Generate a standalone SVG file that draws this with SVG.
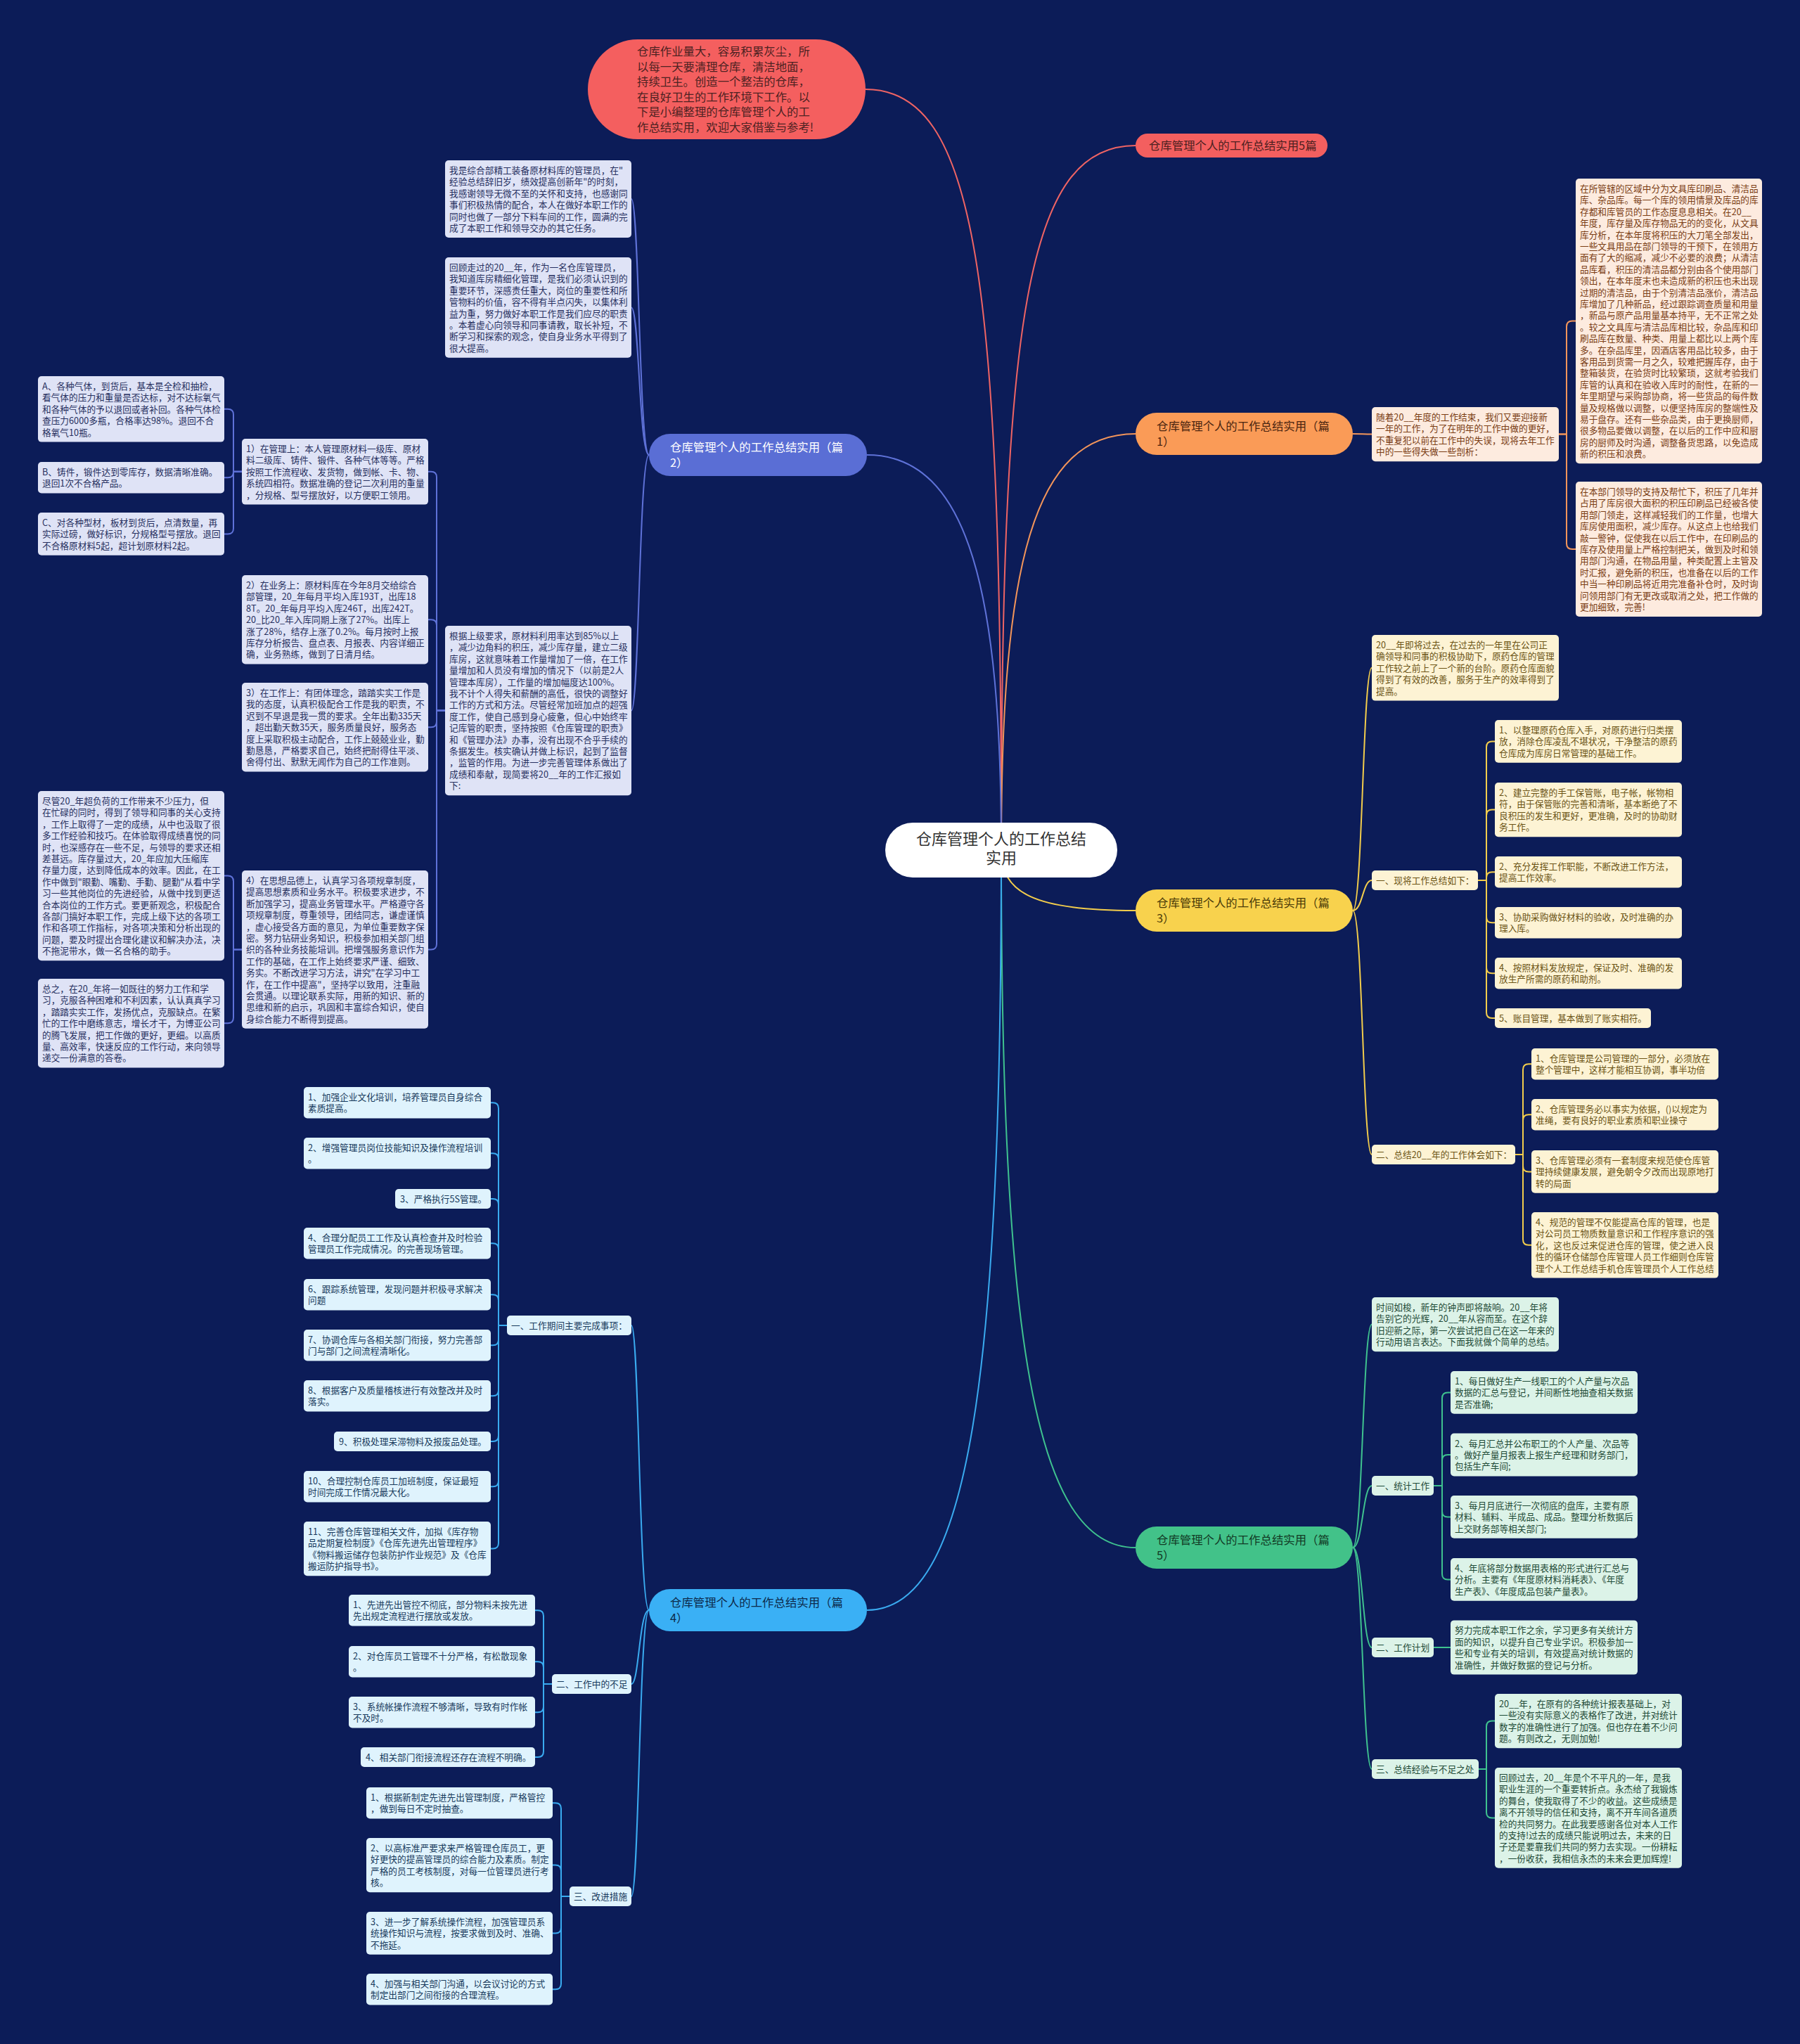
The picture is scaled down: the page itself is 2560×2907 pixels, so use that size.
<svg xmlns="http://www.w3.org/2000/svg" width="2560" height="2907" viewBox="0 0 2560 2907">
<style>
.t{font-family:"Noto Sans CJK SC","Noto Sans",sans-serif;font-size:12.7px}
.bt{font-family:"Noto Sans CJK SC","Noto Sans",sans-serif;font-size:16.4px}
.ln{fill:none;stroke-width:2}
.bx-o{fill:#fdebdf}.tx-o{fill:#7a3d14}
.bx-y{fill:#fdf3d4}.tx-y{fill:#6b5314}
.bx-g{fill:#dcf3e8}.tx-g{fill:#1e4a36}
.bx-b{fill:#dfe3f6}.tx-b{fill:#27305f}
.bx-s{fill:#dff3fd}.tx-s{fill:#173a5c}
</style>
<rect x="0" y="0" width="2560" height="2907" fill="#0c1c58"/>
<g id="connectors">
<path class="ln" stroke="#ef6464" d="M1424 1209 C1424 400 1390 127 1231 127"/>
<path class="ln" stroke="#ef6464" d="M1424 1209 C1424 450 1460 207 1615 207"/>
<path class="ln" stroke="#f3955a" d="M1424 1209 C1424 800 1470 617 1615 617"/>
<path class="ln" stroke="#5f72d8" d="M1424 1209 C1424 850 1380 647 1233 647"/>
<path class="ln" stroke="#f3cd4c" d="M1424 1209 C1424 1270 1470 1295 1615 1295"/>
<path class="ln" stroke="#3fc28f" d="M1424 1209 C1424 1900 1470 2201 1615 2201"/>
<path class="ln" stroke="#3aabf0" d="M1424 1209 C1424 1950 1380 2290 1233 2290"/>
<g stroke="#f3955a" class="ln">
<path d="M1924 617 C1938 617 1938 617.6 1951 617.6"/>
<path d="M2217 617.6 L2228 617.6 L2228 464.6 Q2228 456.6 2236 456.6 L2241 456.6"/>
<path d="M2217 617.6 L2228 617.6 L2228 773 Q2228 781 2236 781 L2241 781"/>
</g>
<g stroke="#5f72d8" class="ln">
<path d="M923 647 C909 647 909 283 898 283"/>
<path d="M923 647 C909 647 909 437.4 898 437.4"/>
<path d="M923 647 C909 647 909 1010.6 898 1010.6"/>
<path d="M633 1010.6 L621 1010.6 L621 678.8 Q621 670.8 613 670.8 L609 670.8"/>
<path d="M633 1010.6 L621 1010.6 L621 889.2 Q621 881.2 613 881.2 L609 881.2"/>
<path d="M633 1010.6 L621 1010.6 L621 1026.2 Q621 1034.2 613 1034.2 L609 1034.2"/>
<path d="M633 1010.6 L621 1010.6 L621 1342.4 Q621 1350.4 613 1350.4 L609 1350.4"/>
<path d="M344 670.8 L332 670.8 L332 589.8 Q332 581.8 324 581.8 L319 581.8"/>
<path d="M344 670.8 L332 670.8 L332 671.2 Q332 679.2 324 679.2 L319 679.2"/>
<path d="M344 670.8 L332 670.8 L332 751.4 Q332 759.4 324 759.4 L319 759.4"/>
<path d="M344 1350.4 L332 1350.4 L332 1253.6 Q332 1245.6 324 1245.6 L319 1245.6"/>
<path d="M344 1350.4 L332 1350.4 L332 1447.2 Q332 1455.2 324 1455.2 L319 1455.2"/>
</g>
<g stroke="#3aabf0" class="ln">
<path d="M923 2290 C909 2290 909 1885 898 1885"/>
<path d="M923 2290 C909 2290 909 2395 898 2395"/>
<path d="M923 2290 C909 2290 909 2697 898 2697"/>
<path d="M721 1885 L709 1885 L709 1576.2 Q709 1568.2 701 1568.2 L698 1568.2"/>
<path d="M721 1885 L709 1885 L709 1648.2 Q709 1640.2 701 1640.2 L698 1640.2"/>
<path d="M721 1885 L709 1885 L709 1713 Q709 1705 701 1705 L698 1705"/>
<path d="M721 1885 L709 1885 L709 1776.2 Q709 1768.2 701 1768.2 L698 1768.2"/>
<path d="M721 1885 L709 1885 L709 1849.2 Q709 1841.2 701 1841.2 L698 1841.2"/>
<path d="M721 1885 L709 1885 L709 1905.2 Q709 1913.2 701 1913.2 L698 1913.2"/>
<path d="M721 1885 L709 1885 L709 1977.2 Q709 1985.2 701 1985.2 L698 1985.2"/>
<path d="M721 1885 L709 1885 L709 2042 Q709 2050 701 2050 L698 2050"/>
<path d="M721 1885 L709 1885 L709 2106.2 Q709 2114.2 701 2114.2 L698 2114.2"/>
<path d="M721 1885 L709 1885 L709 2194.6 Q709 2202.6 701 2202.6 L698 2202.6"/>
<path d="M785 2395 L773 2395 L773 2298.2 Q773 2290.2 765 2290.2 L761 2290.2"/>
<path d="M785 2395 L773 2395 L773 2371.2 Q773 2363.2 765 2363.2 L761 2363.2"/>
<path d="M785 2395 L773 2395 L773 2427.2 Q773 2435.2 765 2435.2 L761 2435.2"/>
<path d="M785 2395 L773 2395 L773 2491 Q773 2499 765 2499 L761 2499"/>
<path d="M810 2697 L798 2697 L798 2572.2 Q798 2564.2 790 2564.2 L786 2564.2"/>
<path d="M810 2697 L798 2697 L798 2660.6 Q798 2652.6 790 2652.6 L786 2652.6"/>
<path d="M810 2697 L798 2697 L798 2741.4 Q798 2749.4 790 2749.4 L786 2749.4"/>
<path d="M810 2697 L798 2697 L798 2821.2 Q798 2829.2 790 2829.2 L786 2829.2"/>
</g>
<g stroke="#f3cd4c" class="ln">
<path d="M1924 1295 C1938 1295 1938 949.7 1951 949.7"/>
<path d="M1924 1295 C1938 1295 1938 1252 1951 1252"/>
<path d="M1924 1295 C1938 1295 1938 1642 1951 1642"/>
<path d="M2102 1252 L2114 1252 L2114 1062.4 Q2114 1054.4 2122 1054.4 L2126 1054.4"/>
<path d="M2102 1252 L2114 1252 L2114 1159.6 Q2114 1151.6 2122 1151.6 L2126 1151.6"/>
<path d="M2102 1252 L2114 1252 L2114 1248.2 Q2114 1240.2 2122 1240.2 L2126 1240.2"/>
<path d="M2102 1252 L2114 1252 L2114 1304.2 Q2114 1312.2 2122 1312.2 L2126 1312.2"/>
<path d="M2102 1252 L2114 1252 L2114 1376.2 Q2114 1384.2 2122 1384.2 L2126 1384.2"/>
<path d="M2102 1252 L2114 1252 L2114 1440 Q2114 1448 2122 1448 L2126 1448"/>
<path d="M2155 1642 L2166 1642 L2166 1521.2 Q2166 1513.2 2174 1513.2 L2178 1513.2"/>
<path d="M2155 1642 L2166 1642 L2166 1593.2 Q2166 1585.2 2174 1585.2 L2178 1585.2"/>
<path d="M2155 1642 L2166 1642 L2166 1658.4 Q2166 1666.4 2174 1666.4 L2178 1666.4"/>
<path d="M2155 1642 L2166 1642 L2166 1762.8 Q2166 1770.8 2174 1770.8 L2178 1770.8"/>
</g>
<g stroke="#3fc28f" class="ln">
<path d="M1924 2201 C1938 2201 1938 1883.6 1951 1883.6"/>
<path d="M1924 2201 C1938 2201 1938 2113 1951 2113"/>
<path d="M1924 2201 C1938 2201 1938 2343 1951 2343"/>
<path d="M1924 2201 C1938 2201 1938 2516 1951 2516"/>
<path d="M2039 2113 L2051 2113 L2051 1988.4 Q2051 1980.4 2059 1980.4 L2063 1980.4"/>
<path d="M2039 2113 L2051 2113 L2051 2077 Q2051 2069 2059 2069 L2063 2069"/>
<path d="M2039 2113 L2051 2113 L2051 2149.4 Q2051 2157.4 2059 2157.4 L2063 2157.4"/>
<path d="M2039 2113 L2051 2113 L2051 2238.4 Q2051 2246.4 2059 2246.4 L2063 2246.4"/>
<path d="M2039 2343 L2063 2343"/>
<path d="M2102 2516 L2114 2516 L2114 2455.6 Q2114 2447.6 2122 2447.6 L2126 2447.6"/>
<path d="M2102 2516 L2114 2516 L2114 2577.4 Q2114 2585.4 2122 2585.4 L2126 2585.4"/>
</g>
</g>

<g id="root">
<rect x="1259" y="1170" width="330" height="78" rx="39" fill="#ffffff"/>
<text x="1424" y="1201" text-anchor="middle" font-family="Noto Sans CJK SC, Noto Sans, sans-serif" font-size="22" fill="#333333"><tspan x="1424">仓库管理个人的工作总结</tspan><tspan x="1424" dy="27">实用</tspan></text>
</g>

<g id="intro-bubble">
<rect x="836" y="56" width="395" height="142" rx="71" fill="#f45f5f"/>
<text class="bt" x="906" y="79" fill="#4d2222"><tspan x="906">仓库作业量大，容易积累灰尘，所</tspan><tspan x="906" dy="21.5">以每一天要清理仓库，清洁地面，</tspan><tspan x="906" dy="21.5">持续卫生。创造一个整洁的仓库，</tspan><tspan x="906" dy="21.5">在良好卫生的工作环境下工作。以</tspan><tspan x="906" dy="21.5">下是小编整理的仓库管理个人的工</tspan><tspan x="906" dy="21.5">作总结实用，欢迎大家借鉴与参考!</tspan></text>
</g>

<g id="title-5">
<rect x="1615" y="190" width="273" height="34" rx="17" fill="#f35f5f"/>
<text class="bt" x="1634" y="213" fill="#4d1f1f">仓库管理个人的工作总结实用5篇</text>
</g>
<g id="branch-1">
<rect x="1615" y="587" width="309" height="60" rx="30" fill="#fa9b57"/>
<text class="bt" x="1645" y="612" fill="#4a2510"><tspan x="1645">仓库管理个人的工作总结实用（篇</tspan><tspan x="1645" dy="21.5">1）</tspan></text>
</g>
<g id="branch-2">
<rect x="923" y="617" width="310" height="60" rx="30" fill="#5a6ed5"/>
<text class="bt" x="953" y="642" fill="#ffffff"><tspan x="953">仓库管理个人的工作总结实用（篇</tspan><tspan x="953" dy="21.5">2）</tspan></text>
</g>
<g id="branch-3">
<rect x="1615" y="1265" width="309" height="60" rx="30" fill="#f8d24d"/>
<text class="bt" x="1645" y="1290" fill="#4a3a08"><tspan x="1645">仓库管理个人的工作总结实用（篇</tspan><tspan x="1645" dy="21.5">3）</tspan></text>
</g>
<g id="branch-4">
<rect x="923" y="2260" width="310" height="60" rx="30" fill="#3ab0f5"/>
<text class="bt" x="953" y="2285" fill="#0d2a4a"><tspan x="953">仓库管理个人的工作总结实用（篇</tspan><tspan x="953" dy="21.5">4）</tspan></text>
</g>
<g id="branch-5">
<rect x="1615" y="2171" width="309" height="60" rx="30" fill="#42c289"/>
<text class="bt" x="1645" y="2196" fill="#123a25"><tspan x="1645">仓库管理个人的工作总结实用（篇</tspan><tspan x="1645" dy="21.5">5）</tspan></text>
</g>

<!-- 篇1 -->
<g id="p1-summary"><rect class="bx-o" x="1951" y="579" width="266" height="77.2" rx="5"/>
<text class="t tx-o" x="1957" y="598"><tspan x="1957">随着20__年度的工作结束，我们又要迎接新</tspan><tspan x="1957" dy="16.4">一年的工作，为了在明年的工作中做的更好，</tspan><tspan x="1957" dy="16.4">不重复犯以前在工作中的失误，现将去年工作</tspan><tspan x="1957" dy="16.4">中的一些得失做一些剖析：</tspan></text></g>
<g id="p1-b1"><rect class="bx-o" x="2241" y="254" width="265" height="405.2" rx="5"/>
<text class="t tx-o" x="2247" y="273"><tspan x="2247">在所管辖的区域中分为文具库印刷品、清洁品</tspan><tspan x="2247" dy="16.4">库、杂品库。每一个库的领用情景及库品的库</tspan><tspan x="2247" dy="16.4">存都和库管员的工作态度息息相关。在20__</tspan><tspan x="2247" dy="16.4">年度，库存量及库存物品无的的变化，从文具</tspan><tspan x="2247" dy="16.4">库分析，在本年度将积压的大刀笔全部发出，</tspan><tspan x="2247" dy="16.4">一些文具用品在部门领导的干预下，在领用方</tspan><tspan x="2247" dy="16.4">面有了大的缩减，减少不必要的浪费；从清洁</tspan><tspan x="2247" dy="16.4">品库看，积压的清洁品都分别由各个使用部门</tspan><tspan x="2247" dy="16.4">领出，在本年度末也未造成新的积压也未出现</tspan><tspan x="2247" dy="16.4">过期的清洁品，由于个别清洁品涨价，清洁品</tspan><tspan x="2247" dy="16.4">库增加了几种新品，经过跟踪调查质量和用量</tspan><tspan x="2247" dy="16.4">，新品与原产品用量基本持平，无不正常之处</tspan><tspan x="2247" dy="16.4">。较之文具库与清洁品库相比较，杂品库和印</tspan><tspan x="2247" dy="16.4">刷品库在数量、种类、用量上都比以上两个库</tspan><tspan x="2247" dy="16.4">多。在杂品库里，因酒店客用品比较多，由于</tspan><tspan x="2247" dy="16.4">客用品到货需一月之久，较难把握库存，由于</tspan><tspan x="2247" dy="16.4">整箱装货，在验货时比较繁琐，这就考验我们</tspan><tspan x="2247" dy="16.4">库管的认真和在验收入库时的耐性，在新的一</tspan><tspan x="2247" dy="16.4">年里期望与采购部协商，将一些货品的每件数</tspan><tspan x="2247" dy="16.4">量及规格做以调整，以便坚持库房的整端性及</tspan><tspan x="2247" dy="16.4">易于盘存。还有一些杂品类，由于更换厨师，</tspan><tspan x="2247" dy="16.4">很多物品要做以调整，在以后的工作中应和厨</tspan><tspan x="2247" dy="16.4">房的厨师及时沟通，调整备货思路，以免造成</tspan><tspan x="2247" dy="16.4">新的积压和浪费。</tspan></text></g>
<g id="p1-b2"><rect class="bx-o" x="2241" y="685" width="265" height="192" rx="5"/>
<text class="t tx-o" x="2247" y="704"><tspan x="2247">在本部门领导的支持及帮忙下，积压了几年并</tspan><tspan x="2247" dy="16.4">占用了库房很大面积的积压印刷品已经被各使</tspan><tspan x="2247" dy="16.4">用部门领走，这样减轻我们的工作量，也增大</tspan><tspan x="2247" dy="16.4">库房使用面积，减少库存。从这点上也给我们</tspan><tspan x="2247" dy="16.4">敲一警钟，促使我在以后工作中，在印刷品的</tspan><tspan x="2247" dy="16.4">库存及使用量上严格控制把关，做到及时和领</tspan><tspan x="2247" dy="16.4">用部门沟通，在物品用量，种类配置上主管及</tspan><tspan x="2247" dy="16.4">时汇报，避免新的积压，也准备在以后的工作</tspan><tspan x="2247" dy="16.4">中当一种印刷品将近用完准备补仓时，及时询</tspan><tspan x="2247" dy="16.4">问领用部门有无更改或取消之处，把工作做的</tspan><tspan x="2247" dy="16.4">更加细致，完善!</tspan></text></g>

<!-- 篇2 -->
<g id="p2-a1"><rect class="bx-b" x="633" y="228" width="265" height="110" rx="5"/>
<text class="t tx-b" x="639" y="247"><tspan x="639">我是综合部精工装备原材料库的管理员，在"</tspan><tspan x="639" dy="16.4">经验总结辞旧岁，绩效提高创新年"的时刻，</tspan><tspan x="639" dy="16.4">我感谢领导无微不至的关怀和支持，也感谢同</tspan><tspan x="639" dy="16.4">事们积极热情的配合，本人在做好本职工作的</tspan><tspan x="639" dy="16.4">同时也做了一部分下料车间的工作，圆满的完</tspan><tspan x="639" dy="16.4">成了本职工作和领导交办的其它任务。</tspan></text></g>
<g id="p2-a2"><rect class="bx-b" x="633" y="366" width="265" height="142.8" rx="5"/>
<text class="t tx-b" x="639" y="385"><tspan x="639">回顾走过的20__年，作为一名仓库管理员，</tspan><tspan x="639" dy="16.4">我知道库房精细化管理，是我们必须认识到的</tspan><tspan x="639" dy="16.4">重要环节，深感责任重大，岗位的重要性和所</tspan><tspan x="639" dy="16.4">管物料的价值，容不得有半点闪失，以集体利</tspan><tspan x="639" dy="16.4">益为重，努力做好本职工作是我们应尽的职责</tspan><tspan x="639" dy="16.4">。本着虚心向领导和同事请教，取长补短，不</tspan><tspan x="639" dy="16.4">断学习和探索的观念，使自身业务水平得到了</tspan><tspan x="639" dy="16.4">很大提高。</tspan></text></g>
<g id="p2-a3"><rect class="bx-b" x="633" y="890" width="265" height="241.2" rx="5"/>
<text class="t tx-b" x="639" y="909"><tspan x="639">根据上级要求，原材料利用率达到85%以上</tspan><tspan x="639" dy="16.4">，减少边角料的积压，减少库存量，建立二级</tspan><tspan x="639" dy="16.4">库房，这就意味着工作量增加了一倍，在工作</tspan><tspan x="639" dy="16.4">量增加和人员没有增加的情况下（以前是2人</tspan><tspan x="639" dy="16.4">管理本库房），工作量的增加幅度达100%。</tspan><tspan x="639" dy="16.4">我不计个人得失和薪酬的高低，很快的调整好</tspan><tspan x="639" dy="16.4">工作的方式和方法。尽管经常加班加点的超强</tspan><tspan x="639" dy="16.4">度工作，使自己感到身心疲惫，但心中始终牢</tspan><tspan x="639" dy="16.4">记库管的职责，坚持按照《仓库管理的职责》</tspan><tspan x="639" dy="16.4">和《管理办法》办事，没有出现不合乎手续的</tspan><tspan x="639" dy="16.4">条据发生。核实确认并做上标识，起到了监督</tspan><tspan x="639" dy="16.4">，监管的作用。为进一步完善管理体系做出了</tspan><tspan x="639" dy="16.4">成绩和奉献，现简要将20__年的工作汇报如</tspan><tspan x="639" dy="16.4">下:</tspan></text></g>
<g id="p2-p1"><rect class="bx-b" x="344" y="624" width="265" height="93.6" rx="5"/>
<text class="t tx-b" x="350" y="643"><tspan x="350">1）在管理上：本人管理原材料一级库、原材</tspan><tspan x="350" dy="16.4">料二级库、铸件、锻件、各种气体等等。严格</tspan><tspan x="350" dy="16.4">按照工作流程收、发货物，做到帐、卡、物、</tspan><tspan x="350" dy="16.4">系统四相符。数据准确的登记二次利用的重量</tspan><tspan x="350" dy="16.4">，分规格、型号摆放好，以方便职工领用。</tspan></text></g>
<g id="p2-p2"><rect class="bx-b" x="344" y="818" width="265" height="126.4" rx="5"/>
<text class="t tx-b" x="350" y="837"><tspan x="350">2）在业务上：原材料库在今年8月交给综合</tspan><tspan x="350" dy="16.4">部管理，20_年每月平均入库193T，出库18</tspan><tspan x="350" dy="16.4">8T。20_年每月平均入库246T，出库242T。</tspan><tspan x="350" dy="16.4">20_比20_年入库同期上涨了27%。出库上</tspan><tspan x="350" dy="16.4">涨了28%，结存上涨了0.2%。每月按时上报</tspan><tspan x="350" dy="16.4">库存分析报告、盘点表、月报表、内容详细正</tspan><tspan x="350" dy="16.4">确，业务熟练，做到了日清月结。</tspan></text></g>
<g id="p2-p3"><rect class="bx-b" x="344" y="971" width="265" height="126.4" rx="5"/>
<text class="t tx-b" x="350" y="990"><tspan x="350">3）在工作上：有团体理念，踏踏实实工作是</tspan><tspan x="350" dy="16.4">我的态度，认真积极配合工作是我的职责，不</tspan><tspan x="350" dy="16.4">迟到不早退是我一贯的要求。全年出勤335天</tspan><tspan x="350" dy="16.4">，超出勤天数35天，服务质量良好，服务态</tspan><tspan x="350" dy="16.4">度上采取积极主动配合，工作上兢兢业业，勤</tspan><tspan x="350" dy="16.4">勤恳恳，严格要求自己，始终把耐得住平淡、</tspan><tspan x="350" dy="16.4">舍得付出、默默无闻作为自己的工作准则。</tspan></text></g>
<g id="p2-p4"><rect class="bx-b" x="344" y="1238" width="265" height="224.8" rx="5"/>
<text class="t tx-b" x="350" y="1257"><tspan x="350">4）在思想品德上，认真学习各项规章制度，</tspan><tspan x="350" dy="16.4">提高思想素质和业务水平。积极要求进步，不</tspan><tspan x="350" dy="16.4">断加强学习，提高业务管理水平。严格遵守各</tspan><tspan x="350" dy="16.4">项规章制度，尊重领导，团结同志，谦虚谨慎</tspan><tspan x="350" dy="16.4">，虚心接受各方面的意见，为单位重要数字保</tspan><tspan x="350" dy="16.4">密。努力钻研业务知识，积极参加相关部门组</tspan><tspan x="350" dy="16.4">织的各种业务技能培训。把增强服务意识作为</tspan><tspan x="350" dy="16.4">工作的基础，在工作上始终要求严谨、细致、</tspan><tspan x="350" dy="16.4">务实。不断改进学习方法，讲究"在学习中工</tspan><tspan x="350" dy="16.4">作，在工作中提高"，坚持学以致用，注重融</tspan><tspan x="350" dy="16.4">会贯通。以理论联系实际，用新的知识、新的</tspan><tspan x="350" dy="16.4">思维和新的启示，巩固和丰富综合知识，使自</tspan><tspan x="350" dy="16.4">身综合能力不断得到提高。</tspan></text></g>
<g id="p2-a"><rect class="bx-b" x="54" y="535" width="265" height="93.6" rx="5"/>
<text class="t tx-b" x="60" y="554"><tspan x="60">A、各种气体，到货后，基本是全检和抽检，</tspan><tspan x="60" dy="16.4">看气体的压力和重量是否达标，对不达标氧气</tspan><tspan x="60" dy="16.4">和各种气体的予以退回或者补回。各种气体检</tspan><tspan x="60" dy="16.4">查压力6000多瓶，合格率达98%。退回不合</tspan><tspan x="60" dy="16.4">格氧气10瓶。</tspan></text></g>
<g id="p2-b"><rect class="bx-b" x="54" y="657" width="265" height="44.4" rx="5"/>
<text class="t tx-b" x="60" y="676"><tspan x="60">B、铸件，锻件达到零库存，数据清晰准确。</tspan><tspan x="60" dy="16.4">退回1次不合格产品。</tspan></text></g>
<g id="p2-c"><rect class="bx-b" x="54" y="729" width="265" height="60.8" rx="5"/>
<text class="t tx-b" x="60" y="748"><tspan x="60">C、对各种型材，板材到货后，点清数量，再</tspan><tspan x="60" dy="16.4">实际过磅，做好标识，分规格型号摆放。退回</tspan><tspan x="60" dy="16.4">不合格原材料5起，超计划原材料2起。</tspan></text></g>
<g id="p2-d1"><rect class="bx-b" x="54" y="1125" width="265" height="241.2" rx="5"/>
<text class="t tx-b" x="60" y="1144"><tspan x="60">尽管20_年超负荷的工作带来不少压力，但</tspan><tspan x="60" dy="16.4">在忙碌的同时，得到了领导和同事的关心支持</tspan><tspan x="60" dy="16.4">，工作上取得了一定的成绩，从中也汲取了很</tspan><tspan x="60" dy="16.4">多工作经验和技巧。在体验取得成绩喜悦的同</tspan><tspan x="60" dy="16.4">时，也深感存在一些不足，与领导的要求还相</tspan><tspan x="60" dy="16.4">差甚远。库存量过大，20_年应加大压缩库</tspan><tspan x="60" dy="16.4">存量力度，达到降低成本的效率。因此，在工</tspan><tspan x="60" dy="16.4">作中做到"眼勤、嘴勤、手勤、腿勤"从看中学</tspan><tspan x="60" dy="16.4">习一些其他岗位的先进经验，从做中找到更适</tspan><tspan x="60" dy="16.4">合本岗位的工作方式。要更新观念，积极配合</tspan><tspan x="60" dy="16.4">各部门搞好本职工作，完成上级下达的各项工</tspan><tspan x="60" dy="16.4">作和各项工作指标，对各项决策和分析出现的</tspan><tspan x="60" dy="16.4">问题，要及时提出合理化建议和解决办法，决</tspan><tspan x="60" dy="16.4">不拖泥带水，做一名合格的助手。</tspan></text></g>
<g id="p2-d2"><rect class="bx-b" x="54" y="1392" width="265" height="126.4" rx="5"/>
<text class="t tx-b" x="60" y="1411"><tspan x="60">总之，在20_年将一如既往的努力工作和学</tspan><tspan x="60" dy="16.4">习，克服各种困难和不利因素，认认真真学习</tspan><tspan x="60" dy="16.4">，踏踏实实工作，发扬优点，克服缺点。在繁</tspan><tspan x="60" dy="16.4">忙的工作中磨练意志，增长才干，为博亚公司</tspan><tspan x="60" dy="16.4">的腾飞发展，把工作做的更好，更细。以高质</tspan><tspan x="60" dy="16.4">量、高效率，快速反应的工作行动，来向领导</tspan><tspan x="60" dy="16.4">递交一份满意的答卷。</tspan></text></g>

<!-- 篇3 -->
<g id="p3-intro"><rect class="bx-y" x="1951" y="903" width="266" height="93.6" rx="5"/>
<text class="t tx-y" x="1957" y="922"><tspan x="1957">20__年即将过去，在过去的一年里在公司正</tspan><tspan x="1957" dy="16.4">确领导和同事的积极协助下，原药仓库的管理</tspan><tspan x="1957" dy="16.4">工作较之前上了一个新的台阶。原药仓库面貌</tspan><tspan x="1957" dy="16.4">得到了有效的改善，服务于生产的效率得到了</tspan><tspan x="1957" dy="16.4">提高。</tspan></text></g>
<g id="p3-s1"><rect class="bx-y" x="1951" y="1238" width="151" height="28" rx="5"/>
<text class="t tx-y" x="1957" y="1257">一、现将工作总结如下：</text></g>
<g id="p3-s1-1"><rect class="bx-y" x="2126" y="1024" width="266" height="60.8" rx="5"/>
<text class="t tx-y" x="2132" y="1043"><tspan x="2132">1、以整理原药仓库入手，对原药进行归类摆</tspan><tspan x="2132" dy="16.4">放，消除仓库凌乱不堪状况，干净整洁的原药</tspan><tspan x="2132" dy="16.4">仓库成为库房日常管理的基础工作。</tspan></text></g>
<g id="p3-s1-2"><rect class="bx-y" x="2126" y="1113" width="266" height="77.2" rx="5"/>
<text class="t tx-y" x="2132" y="1132"><tspan x="2132">2、建立完整的手工保管账，电子帐，帐物相</tspan><tspan x="2132" dy="16.4">符，由于保管账的完善和清晰，基本断绝了不</tspan><tspan x="2132" dy="16.4">良积压的发生和更好，更准确，及时的协助财</tspan><tspan x="2132" dy="16.4">务工作。</tspan></text></g>
<g id="p3-s1-3"><rect class="bx-y" x="2126" y="1218" width="266" height="44.4" rx="5"/>
<text class="t tx-y" x="2132" y="1237"><tspan x="2132">2、充分发挥工作职能，不断改进工作方法，</tspan><tspan x="2132" dy="16.4">提高工作效率。</tspan></text></g>
<g id="p3-s1-4"><rect class="bx-y" x="2126" y="1290" width="266" height="44.4" rx="5"/>
<text class="t tx-y" x="2132" y="1309"><tspan x="2132">3、协助采购做好材料的验收，及时准确的办</tspan><tspan x="2132" dy="16.4">理入库。</tspan></text></g>
<g id="p3-s1-5"><rect class="bx-y" x="2126" y="1362" width="266" height="44.4" rx="5"/>
<text class="t tx-y" x="2132" y="1381"><tspan x="2132">4、按照材料发放规定，保证及时、准确的发</tspan><tspan x="2132" dy="16.4">放生产所需的原药和助剂。</tspan></text></g>
<g id="p3-s1-6"><rect class="bx-y" x="2126" y="1434" width="222" height="28" rx="5"/>
<text class="t tx-y" x="2132" y="1453">5、账目管理，基本做到了账实相符。</text></g>
<g id="p3-s2"><rect class="bx-y" x="1951" y="1628" width="204" height="28" rx="5"/>
<text class="t tx-y" x="1957" y="1647">二、总结20__年的工作体会如下：</text></g>
<g id="p3-s2-1"><rect class="bx-y" x="2178" y="1491" width="266" height="44.4" rx="5"/>
<text class="t tx-y" x="2184" y="1510"><tspan x="2184">1、仓库管理是公司管理的一部分，必须放在</tspan><tspan x="2184" dy="16.4">整个管理中，这样才能相互协调，事半功倍</tspan></text></g>
<g id="p3-s2-2"><rect class="bx-y" x="2178" y="1563" width="266" height="44.4" rx="5"/>
<text class="t tx-y" x="2184" y="1582"><tspan x="2184">2、仓库管理务必以事实为依据，()以规定为</tspan><tspan x="2184" dy="16.4">准绳，要有良好的职业素质和职业操守</tspan></text></g>
<g id="p3-s2-3"><rect class="bx-y" x="2178" y="1636" width="266" height="60.8" rx="5"/>
<text class="t tx-y" x="2184" y="1655"><tspan x="2184">3、仓库管理必须有一套制度来规范使仓库管</tspan><tspan x="2184" dy="16.4">理持续健康发展，避免朝令夕改而出现原地打</tspan><tspan x="2184" dy="16.4">转的局面</tspan></text></g>
<g id="p3-s2-4"><rect class="bx-y" x="2178" y="1724" width="266" height="93.6" rx="5"/>
<text class="t tx-y" x="2184" y="1743"><tspan x="2184">4、规范的管理不仅能提高仓库的管理，也是</tspan><tspan x="2184" dy="16.4">对公司员工物质数量意识和工作程序意识的强</tspan><tspan x="2184" dy="16.4">化，这也反过来促进仓库的管理，使之进入良</tspan><tspan x="2184" dy="16.4">性的循环仓储部仓库管理人员工作细则仓库管</tspan><tspan x="2184" dy="16.4">理个人工作总结手机仓库管理员个人工作总结</tspan></text></g>

<!-- 篇5 -->
<g id="p5-intro"><rect class="bx-g" x="1951" y="1845" width="266" height="77.2" rx="5"/>
<text class="t tx-g" x="1957" y="1864"><tspan x="1957">时间如梭，新年的钟声即将敲响。20__年将</tspan><tspan x="1957" dy="16.4">告别它的光辉，20__年从容而至。在这个辞</tspan><tspan x="1957" dy="16.4">旧迎新之际，第一次尝试把自己在这一年来的</tspan><tspan x="1957" dy="16.4">行动用语言表达。下面我就做个简单的总结。</tspan></text></g>
<g id="p5-s1"><rect class="bx-g" x="1951" y="2099" width="88" height="28" rx="5"/>
<text class="t tx-g" x="1957" y="2118">一、统计工作</text></g>
<g id="p5-s1-1"><rect class="bx-g" x="2063" y="1950" width="266" height="60.8" rx="5"/>
<text class="t tx-g" x="2069" y="1969"><tspan x="2069">1、每日做好生产一线职工的个人产量与次品</tspan><tspan x="2069" dy="16.4">数据的汇总与登记，并间断性地抽查相关数据</tspan><tspan x="2069" dy="16.4">是否准确;</tspan></text></g>
<g id="p5-s1-2"><rect class="bx-g" x="2063" y="2038.6" width="266" height="60.8" rx="5"/>
<text class="t tx-g" x="2069" y="2057.6"><tspan x="2069">2、每月汇总并公布职工的个人产量、次品等</tspan><tspan x="2069" dy="16.4">。做好产量月报表上报生产经理和财务部门，</tspan><tspan x="2069" dy="16.4">包括生产车间;</tspan></text></g>
<g id="p5-s1-3"><rect class="bx-g" x="2063" y="2127" width="266" height="60.8" rx="5"/>
<text class="t tx-g" x="2069" y="2146"><tspan x="2069">3、每月月底进行一次彻底的盘库，主要有原</tspan><tspan x="2069" dy="16.4">材料、辅料、半成品、成品。整理分析数据后</tspan><tspan x="2069" dy="16.4">上交财务部等相关部门;</tspan></text></g>
<g id="p5-s1-4"><rect class="bx-g" x="2063" y="2216" width="266" height="60.8" rx="5"/>
<text class="t tx-g" x="2069" y="2235"><tspan x="2069">4、年底将部分数据用表格的形式进行汇总与</tspan><tspan x="2069" dy="16.4">分析。主要有《年度原材料消耗表》、《年度</tspan><tspan x="2069" dy="16.4">生产表》、《年度成品包装产量表》。</tspan></text></g>
<g id="p5-s2"><rect class="bx-g" x="1951" y="2329" width="88" height="28" rx="5"/>
<text class="t tx-g" x="1957" y="2348">二、工作计划</text></g>
<g id="p5-s2-1"><rect class="bx-g" x="2063" y="2304.4" width="266" height="77.2" rx="5"/>
<text class="t tx-g" x="2069" y="2323.4"><tspan x="2069">努力完成本职工作之余，学习更多有关统计方</tspan><tspan x="2069" dy="16.4">面的知识，以提升自己专业学识。积极参加一</tspan><tspan x="2069" dy="16.4">些和专业有关的培训，有效提高对统计数据的</tspan><tspan x="2069" dy="16.4">准确性，并做好数据的登记与分析。</tspan></text></g>
<g id="p5-s3"><rect class="bx-g" x="1951" y="2502" width="152" height="28" rx="5"/>
<text class="t tx-g" x="1957" y="2521">三、总结经验与不足之处</text></g>
<g id="p5-s3-1"><rect class="bx-g" x="2126" y="2409" width="266" height="77.2" rx="5"/>
<text class="t tx-g" x="2132" y="2428"><tspan x="2132">20__年，在原有的各种统计报表基础上，对</tspan><tspan x="2132" dy="16.4">一些没有实际意义的表格作了改进，并对统计</tspan><tspan x="2132" dy="16.4">数字的准确性进行了加强。但也存在着不少问</tspan><tspan x="2132" dy="16.4">题。有则改之，无则加勉!</tspan></text></g>
<g id="p5-s3-2"><rect class="bx-g" x="2126" y="2514" width="266" height="142.8" rx="5"/>
<text class="t tx-g" x="2132" y="2533"><tspan x="2132">回顾过去，20__年是个不平凡的一年，是我</tspan><tspan x="2132" dy="16.4">职业生涯的一个重要转折点。永杰给了我锻炼</tspan><tspan x="2132" dy="16.4">的舞台，使我取得了不少的收益。这些成绩是</tspan><tspan x="2132" dy="16.4">离不开领导的信任和支持，离不开车间各道质</tspan><tspan x="2132" dy="16.4">检的共同努力。在此我要感谢各位对本人工作</tspan><tspan x="2132" dy="16.4">的支持!过去的成绩只能说明过去，未来的日</tspan><tspan x="2132" dy="16.4">子还是要靠我们共同的努力去实现。一份耕耘</tspan><tspan x="2132" dy="16.4">，一份收获，我相信永杰的未来会更加辉煌!</tspan></text></g>

<!-- 篇4 -->
<g id="p4-s1"><rect class="bx-s" x="721" y="1871" width="177" height="28" rx="5"/>
<text class="t tx-s" x="727" y="1890">一、工作期间主要完成事项：</text></g>
<g id="p4-s1-1"><rect class="bx-s" x="432" y="1546" width="266" height="44.4" rx="5"/>
<text class="t tx-s" x="438" y="1565"><tspan x="438">1、加强企业文化培训，培养管理员自身综合</tspan><tspan x="438" dy="16.4">素质提高。</tspan></text></g>
<g id="p4-s1-2"><rect class="bx-s" x="432" y="1618" width="266" height="44.4" rx="5"/>
<text class="t tx-s" x="438" y="1637"><tspan x="438">2、增强管理员岗位技能知识及操作流程培训</tspan><tspan x="438" dy="16.4">。</tspan></text></g>
<g id="p4-s1-3"><rect class="bx-s" x="562" y="1691" width="136" height="28" rx="5"/>
<text class="t tx-s" x="569" y="1710">3、严格执行5S管理。</text></g>
<g id="p4-s1-4"><rect class="bx-s" x="432" y="1746" width="266" height="44.4" rx="5"/>
<text class="t tx-s" x="438" y="1765"><tspan x="438">4、合理分配员工工作及认真检查并及时检验</tspan><tspan x="438" dy="16.4">管理员工作完成情况。的完善现场管理。</tspan></text></g>
<g id="p4-s1-6"><rect class="bx-s" x="432" y="1819" width="266" height="44.4" rx="5"/>
<text class="t tx-s" x="438" y="1838"><tspan x="438">6、跟踪系统管理，发现问题并积极寻求解决</tspan><tspan x="438" dy="16.4">问题</tspan></text></g>
<g id="p4-s1-7"><rect class="bx-s" x="432" y="1891" width="266" height="44.4" rx="5"/>
<text class="t tx-s" x="438" y="1910"><tspan x="438">7、协调仓库与各相关部门衔接，努力完善部</tspan><tspan x="438" dy="16.4">门与部门之间流程清晰化。</tspan></text></g>
<g id="p4-s1-8"><rect class="bx-s" x="432" y="1963" width="266" height="44.4" rx="5"/>
<text class="t tx-s" x="438" y="1982"><tspan x="438">8、根据客户及质量稽核进行有效整改并及时</tspan><tspan x="438" dy="16.4">落实。</tspan></text></g>
<g id="p4-s1-9"><rect class="bx-s" x="475" y="2036" width="223" height="28" rx="5"/>
<text class="t tx-s" x="482" y="2055">9、积极处理呆滞物料及报废品处理。</text></g>
<g id="p4-s1-10"><rect class="bx-s" x="432" y="2092" width="266" height="44.4" rx="5"/>
<text class="t tx-s" x="438" y="2111"><tspan x="438">10、合理控制仓库员工加班制度，保证最短</tspan><tspan x="438" dy="16.4">时间完成工作情况最大化。</tspan></text></g>
<g id="p4-s1-11"><rect class="bx-s" x="432" y="2164" width="266" height="77.2" rx="5"/>
<text class="t tx-s" x="438" y="2183"><tspan x="438">11、完善仓库管理相关文件，加拟《库存物</tspan><tspan x="438" dy="16.4">品定期复检制度》《仓库先进先出管理程序》</tspan><tspan x="438" dy="16.4">《物料搬运储存包装防护作业规范》及《仓库</tspan><tspan x="438" dy="16.4">搬运防护指导书》。</tspan></text></g>
<g id="p4-s2"><rect class="bx-s" x="785" y="2381" width="113" height="28" rx="5"/>
<text class="t tx-s" x="791" y="2400">二、工作中的不足</text></g>
<g id="p4-s2-1"><rect class="bx-s" x="496" y="2268" width="265" height="44.4" rx="5"/>
<text class="t tx-s" x="502" y="2287"><tspan x="502">1、先进先出管控不彻底，部分物料未按先进</tspan><tspan x="502" dy="16.4">先出规定流程进行摆放或发放。</tspan></text></g>
<g id="p4-s2-2"><rect class="bx-s" x="496" y="2341" width="265" height="44.4" rx="5"/>
<text class="t tx-s" x="502" y="2360"><tspan x="502">2、对仓库员工管理不十分严格，有松散现象</tspan><tspan x="502" dy="16.4">。</tspan></text></g>
<g id="p4-s2-3"><rect class="bx-s" x="496" y="2413" width="265" height="44.4" rx="5"/>
<text class="t tx-s" x="502" y="2432"><tspan x="502">3、系统帐操作流程不够清晰，导致有时作帐</tspan><tspan x="502" dy="16.4">不及时。</tspan></text></g>
<g id="p4-s2-4"><rect class="bx-s" x="513" y="2485" width="248" height="28" rx="5"/>
<text class="t tx-s" x="520" y="2504">4、相关部门衔接流程还存在流程不明确。</text></g>
<g id="p4-s3"><rect class="bx-s" x="810" y="2683" width="88" height="28" rx="5"/>
<text class="t tx-s" x="816" y="2702">三、改进措施</text></g>
<g id="p4-s3-1"><rect class="bx-s" x="521" y="2542" width="265" height="44.4" rx="5"/>
<text class="t tx-s" x="527" y="2561"><tspan x="527">1、根据新制定先进先出管理制度，严格管控</tspan><tspan x="527" dy="16.4">，做到每日不定时抽查。</tspan></text></g>
<g id="p4-s3-2"><rect class="bx-s" x="521" y="2614" width="265" height="77.2" rx="5"/>
<text class="t tx-s" x="527" y="2633"><tspan x="527">2、以高标准严要求来严格管理仓库员工，更</tspan><tspan x="527" dy="16.4">好更快的提高管理员的综合能力及素质。制定</tspan><tspan x="527" dy="16.4">严格的员工考核制度，对每一位管理员进行考</tspan><tspan x="527" dy="16.4">核。</tspan></text></g>
<g id="p4-s3-3"><rect class="bx-s" x="521" y="2719" width="265" height="60.8" rx="5"/>
<text class="t tx-s" x="527" y="2738"><tspan x="527">3、进一步了解系统操作流程，加强管理员系</tspan><tspan x="527" dy="16.4">统操作知识与流程，按要求做到及时、准确、</tspan><tspan x="527" dy="16.4">不拖延。</tspan></text></g>
<g id="p4-s3-4"><rect class="bx-s" x="521" y="2807" width="265" height="44.4" rx="5"/>
<text class="t tx-s" x="527" y="2826"><tspan x="527">4、加强与相关部门沟通，以会议讨论的方式</tspan><tspan x="527" dy="16.4">制定出部门之间衔接的合理流程。</tspan></text></g>
</svg>
